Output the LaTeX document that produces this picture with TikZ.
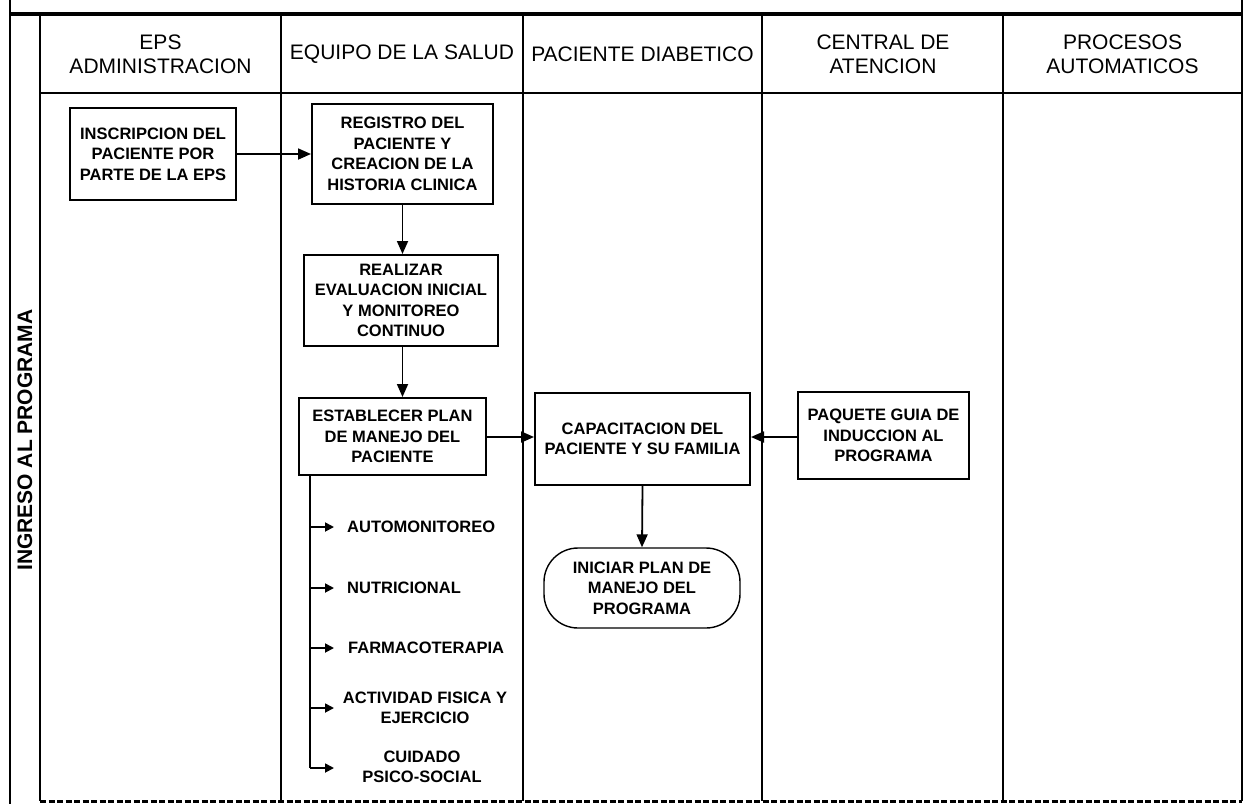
\documentclass[tikz,border=0pt]{standalone}
\usepackage{fontspec}
\setmainfont{Liberation Sans}
\usetikzlibrary{arrows.meta}
\begin{document}
\begin{tikzpicture}[x=1pt,y=-1pt,
  frame/.style={line width=2pt},
  box/.style={draw, line width=2pt, align=center, inner sep=0pt, font=\fontsize{16.5}{20.5}\selectfont\bfseries},
  hdr/.style={align=center, inner sep=0pt, font=\fontsize{21}{24}\selectfont},
  item/.style={align=center, inner sep=0pt, font=\fontsize{16.5}{20.5}\selectfont\bfseries},
  conn/.style={line width=1.8pt, -{Triangle[length=13pt,width=11pt]}},
  sconn/.style={line width=1.8pt, -{Triangle[length=9pt,width=9pt]}}]
\useasboundingbox (0,0) rectangle (1244,804);
% frame
\draw[frame] (10,0) -- (10,804);
\draw[frame] (1242,0) -- (1242,801);
\draw[line width=4pt] (9,14) -- (1243,14);
\draw[frame] (40,14) -- (40,801);
\draw[frame] (40,93) -- (1242,93);
\foreach \xx in {281,523,762,1003} \draw[frame] (\xx,14) -- (\xx,801);
\draw[line width=3pt, dash pattern=on 6pt off 2.5pt] (40,801) -- (1242,801);
% headers
\node[hdr] (h1) at (160.5,54) {EPS\\ADMINISTRACION};
\node[hdr] (h2) at (402,54) {EQUIPO DE LA SALUD};
\node[hdr] (h3) at (642.5,54) {PACIENTE DIABETICO};
\node[hdr] (h4) at (883,54) {CENTRAL DE\\ATENCION};
\node[hdr] (h5) at (1122.5,54) {PROCESOS\\AUTOMATICOS};
\node[rotate=90, inner sep=0pt, font=\fontsize{21}{24}\selectfont\bfseries] (lane) at (25,440) {INGRESO AL PROGRAMA};
% boxes
\node[box, minimum width=166pt, minimum height=92pt] (ins) at (153,154) {INSCRIPCION DEL\\PACIENTE POR\\PARTE DE LA EPS};
\node[box, minimum width=181pt, minimum height=100pt] (reg) at (402.5,154) {REGISTRO DEL\\PACIENTE Y\\CREACION DE LA\\HISTORIA CLINICA};
\node[box, minimum width=194pt, minimum height=91pt] (real) at (401,300.5) {REALIZAR\\EVALUACION INICIAL\\Y MONITOREO\\CONTINUO};
\node[box, minimum width=187pt, minimum height=77pt] (est) at (392.5,436.5) {ESTABLECER PLAN\\DE MANEJO DEL\\PACIENTE};
\node[box, minimum width=215pt, minimum height=92pt] (cap) at (642.5,439) {CAPACITACION DEL\\PACIENTE Y SU FAMILIA};
\node[box, minimum width=171pt, minimum height=87pt] (paq) at (883.5,435.5) {PAQUETE GUIA DE\\INDUCCION AL\\PROGRAMA};
\node[box, line width=1.4pt, rounded corners=34pt, minimum width=196pt, minimum height=80pt] (ini) at (642,588) {INICIAR PLAN DE\\MANEJO DEL\\PROGRAMA};
% connectors
\draw[conn] (ins.east) -- (reg.west);
\draw[conn] (reg.south) -- (reg.south |- real.north);
\draw[conn] (reg.south |- real.south) -- (reg.south |- est.north);
\draw[conn] (est.east |- 0,437) -- (cap.west |- 0,437);
\draw[conn] (paq.west |- 0,437) -- (cap.east |- 0,437);
\draw[conn] (cap.south) -- (ini.north);
% branch
\coordinate (btop) at (310,475);
\coordinate (b1) at (310,527);
\coordinate (b2) at (310,588);
\coordinate (b3) at (310,648);
\coordinate (b4) at (310,708);
\coordinate (b5) at (310,768);
\coordinate (t1) at (334,527);
\coordinate (t2) at (334,588);
\coordinate (t3) at (334,648);
\coordinate (t4) at (334,708);
\coordinate (t5) at (334,768);
\draw[line width=1.8pt] (btop) -- (b5);
\draw[sconn] (b1) -- (t1);
\draw[sconn] (b2) -- (t2);
\draw[sconn] (b3) -- (t3);
\draw[sconn] (b4) -- (t4);
\draw[sconn] (b5) -- (t5);
\node[item, anchor=west] (auto) at (347,527) {AUTOMONITOREO};
\node[item, anchor=west] (nutr) at (347,588) {NUTRICIONAL};
\node[item, anchor=west] (farm) at (348,648) {FARMACOTERAPIA};
\node[item] (act) at (425,708) {ACTIVIDAD FISICA Y\\EJERCICIO};
\node[item] (cuid) at (422,767) {CUIDADO\\PSICO-SOCIAL};
\end{tikzpicture}
\end{document}
